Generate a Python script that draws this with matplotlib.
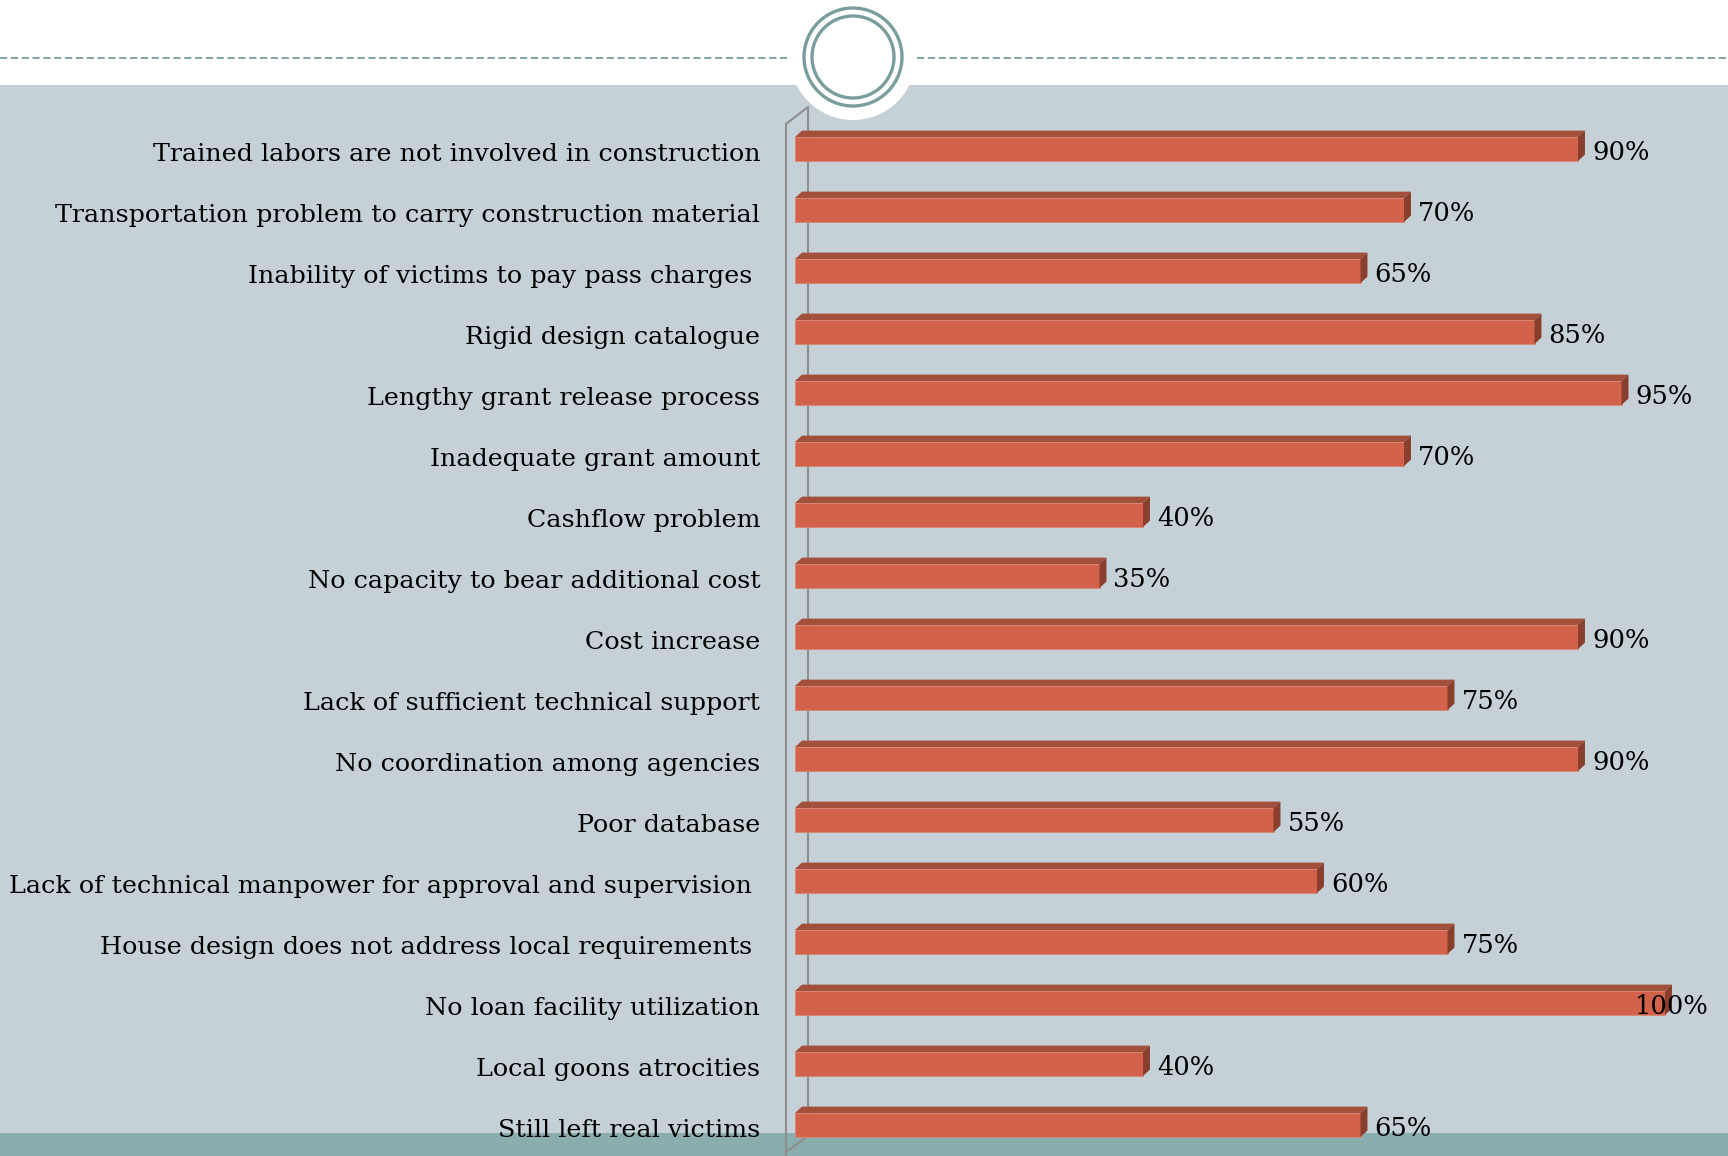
import matplotlib
matplotlib.use("Agg")
import matplotlib.pyplot as plt
from matplotlib.patches import Rectangle, Circle, Polygon

categories = [
    "Trained labors are not involved in construction",
    "Transportation problem to carry construction material",
    "Inability of victims to pay pass charges ",
    "Rigid design catalogue",
    "Lengthy grant release process",
    "Inadequate grant amount",
    "Cashflow problem",
    "No capacity to bear additional cost",
    "Cost increase",
    "Lack of sufficient technical support",
    "No coordination among agencies",
    "Poor database",
    "Lack of technical manpower for approval and supervision ",
    "House design does not address local requirements ",
    "No loan facility utilization",
    "Local goons atrocities",
    "Still left real victims",
]
values = [90, 70, 65, 85, 95, 70, 40, 35, 90, 75, 90, 55, 60, 75, 100, 40, 65]

W, H = 1728, 1156
fig = plt.figure(figsize=(W / 100, H / 100), dpi=100)
fig.patch.set_facecolor("white")

PANEL = "#C5D1D7"
TEAL = "#8AADAD"
RING = "#7A9E9E"
WALL = "#8E8E8E"
FRONT = "#D2634A"
TOP = "#A24F3B"
SIDE = "#8A3E2D"
FONT = "DejaVu Serif"

# ---- decorative background (pixel space) ----
bg = fig.add_axes([0, 0, 1, 1], zorder=0)
bg.set_xlim(0, W)
bg.set_ylim(H, 0)
bg.axis("off")
bg.add_patch(Rectangle((0, 85), W, H - 85, facecolor=PANEL, edgecolor="none"))
bg.add_patch(Rectangle((0, 1133), W, H - 1133, facecolor=TEAL, edgecolor="none"))
bg.add_patch(Circle((853, 57), 63, facecolor="white", edgecolor="none"))
bg.plot([0, 787], [58, 58], color=RING, lw=1.3, dashes=(4, 2))
bg.plot([917, W], [58, 58], color=RING, lw=1.3, dashes=(4, 2))
bg.add_patch(Circle((853, 57), 49, facecolor="none", edgecolor=RING, lw=2.4))
bg.add_patch(Circle((853, 57), 41, facecolor="none", edgecolor=RING, lw=2.4))
# 3D axis wall
bg.plot([786, 786, 808, 808], [H, 124, 107, 1136], color=WALL, lw=1.5)
bg.plot([808, 786], [1136, 1152], color=WALL, lw=1.5)

# ---- chart axes ----
n = len(values)
xmax = 105
left_px, right_px = 795, 795 + 8.7 * xmax
top_px, bot_px = 149 - 30.5, 149 + (n - 0.5) * 61
ax = fig.add_axes([left_px / W, 1 - bot_px / H, (right_px - left_px) / W,
                   (bot_px - top_px) / H], zorder=1)
ax.patch.set_alpha(0)
ax.set_xlim(0, xmax)
ax.set_ylim(n - 0.5, -0.5)
for s in ax.spines.values():
    s.set_visible(False)
ax.set_xticks([])
ax.set_yticks([])

bh = 0.393      # front face height (data units)
dx, dy = 0.8, 0.105  # 3D depth offsets (data units)
ypos = list(range(n))
ax.barh(ypos, values, height=bh, color=FRONT, edgecolor="#DB8672",
        linewidth=0.6, zorder=3)
for i, v in zip(ypos, values):
    yt, yb = i - bh / 2, i + bh / 2
    ax.add_patch(Polygon([(0, yt), (v, yt), (v + dx, yt - dy), (dx, yt - dy)],
                         closed=True, facecolor=TOP, edgecolor="none", zorder=3))
    ax.add_patch(Polygon([(v, yt), (v + dx, yt - dy), (v + dx, yb - dy), (v, yb)],
                         closed=True, facecolor=SIDE, edgecolor="none", zorder=3))
    lab = f"{v}%"
    if v >= 100:
        ax.text(xmax, i + 0.05, lab, ha="right", va="center", fontsize=18.5,
                family=FONT, color="black", zorder=5)
    else:
        ax.annotate(lab, (v, i + 0.05), xytext=(10, 0), textcoords="offset points",
                    ha="left", va="center", fontsize=18.5, family=FONT,
                    color="black", zorder=5, annotation_clip=False)

for i, name in zip(ypos, categories):
    ax.annotate(name, (0, i), xycoords=("axes fraction", "data"),
                xytext=(-25, -4), textcoords="offset points",
                ha="right", va="center", fontsize=18.3, family=FONT,
                color="black", annotation_clip=False)

fig.savefig("out.png", dpi=100, facecolor=fig.get_facecolor())
